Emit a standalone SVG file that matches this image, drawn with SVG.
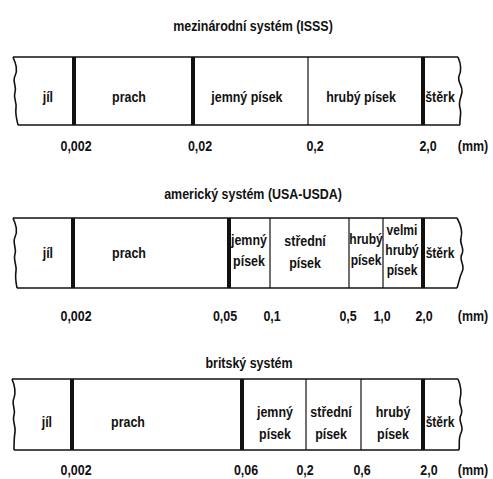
<svg xmlns="http://www.w3.org/2000/svg" width="493" height="479" viewBox="0 0 493 479">
<style>
text{font-family:"Liberation Sans",Arial,sans-serif;font-weight:bold;font-size:15px;fill:#111;text-anchor:middle;transform-box:fill-box;transform-origin:50% 50%;transform:scaleX(.83)}
.t{font-size:14.5px}
.edge{fill:none;stroke:#111;stroke-width:1.6}
.thick{stroke:#111;stroke-width:4}
.thin{stroke:#111;stroke-width:1.2}
</style>
<rect width="493" height="479" fill="#fff"/>

<!-- Panel 1: ISSS -->
<g id="isss">
  <text x="253" y="31">mezinárodní systém (ISSS)</text>
  <g id="isss-frame">
    <path class="edge" d="M13,57 H458"/>
    <path class="edge" d="M18,125 H460"/>
    <path class="edge" d="M13,57 C16,64 18,70 15,76 C12,82 17,86 15,92 C13,98 17,102 16,108 C15,114 17,120 18,125"/>
    <path class="edge" d="M458,57 C461,64 462,70 459,76 C457,82 463,86 462,92 C461,98 458,102 460,108 C462,114 459,120 460,125"/>
  </g>
  <g id="isss-dividers">
    <line class="thick" x1="74" y1="57" x2="74" y2="125"/>
    <line class="thick" x1="193" y1="57" x2="193" y2="125"/>
    <line class="thin" x1="308" y1="57" x2="308" y2="125"/>
    <line class="thick" x1="423" y1="57" x2="423" y2="125"/>
  </g>
  <g id="isss-jil"><text x="48" y="102">jíl</text></g>
  <g id="isss-prach"><text x="129" y="102">prach</text></g>
  <g id="isss-jemny"><text x="247" y="102">jemný písek</text></g>
  <g id="isss-hruby"><text x="361" y="102">hrubý písek</text></g>
  <g id="isss-sterk"><text x="440" y="102">štěrk</text></g>
  <g id="isss-scale">
    <text x="76" y="151">0,002</text>
    <text x="200" y="151">0,02</text>
    <text x="315" y="151">0,2</text>
    <text x="428" y="151">2,0</text>
    <text x="473" y="151">(mm)</text>
  </g>
</g>

<!-- Panel 2: USDA -->
<g id="usda">
  <text x="253" y="199">americký systém (USA-USDA)</text>
  <g id="usda-frame">
    <path class="edge" d="M13,218 H457"/>
    <path class="edge" d="M17,288 H457"/>
    <path class="edge" d="M13,218 C16,225 18,231 15,237 C12,243 17,248 15,254 C13,260 17,265 16,271 C15,277 16,283 17,288"/>
    <path class="edge" d="M457,218 C461,225 463,231 461,238 C459,244 465,248 462,254 C458,260 466,265 462,272 C459,278 459,283 457,288"/>
  </g>
  <g id="usda-dividers">
    <line class="thick" x1="73" y1="218" x2="73" y2="288"/>
    <line class="thick" x1="229" y1="218" x2="229" y2="288"/>
    <line class="thin" x1="270" y1="218" x2="270" y2="288"/>
    <line class="thin" x1="349" y1="218" x2="349" y2="288"/>
    <line class="thin" x1="383" y1="218" x2="383" y2="288"/>
    <line class="thick" x1="423" y1="218" x2="423" y2="288"/>
  </g>
  <g id="usda-jil"><text x="48" y="258">jíl</text></g>
  <g id="usda-prach"><text x="129" y="258">prach</text></g>
  <g id="usda-jemny"><text x="249" y="245">jemný</text><text x="249" y="266">písek</text></g>
  <g id="usda-stredni"><text x="305" y="246">střední</text><text x="305" y="268">písek</text></g>
  <g id="usda-hruby"><text class="t" x="366" y="244">hrubý</text><text class="t" x="366" y="265">písek</text></g>
  <g id="usda-velmi"><text class="t" x="402" y="235">velmi</text><text class="t" x="402" y="255">hrubý</text><text class="t" x="402" y="275">písek</text></g>
  <g id="usda-sterk"><text class="t" x="440" y="258">štěrk</text></g>
  <g id="usda-scale">
    <text x="76" y="321">0,002</text>
    <text x="225" y="321">0,05</text>
    <text x="272" y="321">0,1</text>
    <text x="348" y="321">0,5</text>
    <text x="382" y="321">1,0</text>
    <text x="424" y="321">2,0</text>
    <text x="473" y="321">(mm)</text>
  </g>
</g>

<!-- Panel 3: British -->
<g id="british">
  <text x="249" y="368">britský systém</text>
  <g id="british-frame">
    <path class="edge" d="M12,379 H458"/>
    <path class="edge" d="M14,450 H459"/>
    <path class="edge" d="M12,379 C15,386 16,392 14,398 C11,404 16,409 14,415 C12,421 16,426 15,432 C14,438 14,444 14,450"/>
    <path class="edge" d="M458,379 C461,386 462,392 460,399 C458,405 464,409 461,415 C457,421 465,426 461,433 C458,439 460,445 459,450"/>
  </g>
  <g id="british-dividers">
    <line class="thick" x1="72" y1="379" x2="72" y2="450"/>
    <line class="thick" x1="242" y1="379" x2="242" y2="450"/>
    <line class="thin" x1="306" y1="379" x2="306" y2="450"/>
    <line class="thin" x1="361" y1="379" x2="361" y2="450"/>
    <line class="thick" x1="423" y1="379" x2="423" y2="450"/>
  </g>
  <g id="british-jil"><text x="47" y="427">jíl</text></g>
  <g id="british-prach"><text x="128" y="427">prach</text></g>
  <g id="british-jemny"><text x="275" y="417">jemný</text><text x="275" y="439">písek</text></g>
  <g id="british-stredni"><text x="331" y="417">střední</text><text x="331" y="439">písek</text></g>
  <g id="british-hruby"><text x="393" y="417">hrubý</text><text x="393" y="439">písek</text></g>
  <g id="british-sterk"><text class="t" x="440" y="427">štěrk</text></g>
  <g id="british-scale">
    <text x="76" y="475">0,002</text>
    <text x="246" y="475">0,06</text>
    <text x="305" y="475">0,2</text>
    <text x="362" y="475">0,6</text>
    <text x="429" y="475">2,0</text>
    <text x="473" y="475">(mm)</text>
  </g>
</g>
</svg>
